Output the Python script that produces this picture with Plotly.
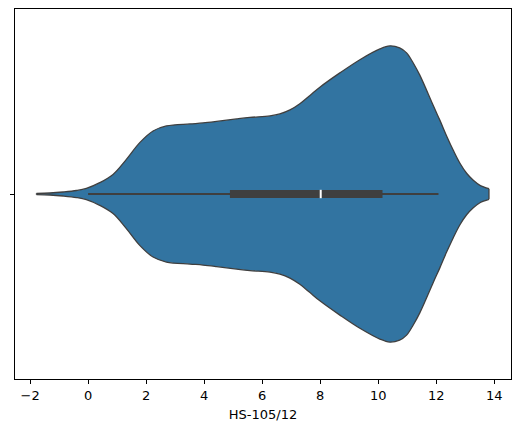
import plotly.graph_objects as go

# violin outline: value positions and half-widths (category units)
grid_x = [-1.78, -1.32, -0.86, -0.40, -0.06, 0.40, 0.86, 1.32, 1.78, 2.24, 2.70, 3.51,
          3.96, 4.43, 5.12, 5.58, 6.27, 6.61, 6.96, 7.30, 7.65, 7.99, 8.68, 9.37, 10.06,
          10.40, 10.74, 10.98, 11.21, 11.44, 11.90, 12.13, 12.36, 12.59, 12.82, 13.05,
          13.28, 13.51, 13.82]
half_width = [0.0016, 0.0027, 0.0054, 0.0095, 0.0151, 0.0306, 0.053, 0.0936, 0.1388,
              0.1704, 0.1839, 0.1893, 0.192, 0.1961, 0.2029, 0.2069, 0.211, 0.2164,
              0.2272, 0.2440, 0.2665, 0.2886, 0.3273, 0.363, 0.3922, 0.4003, 0.3949,
              0.3814, 0.354, 0.3205, 0.239, 0.199, 0.157, 0.118, 0.083, 0.056, 0.037,
              0.0235, 0.0145]

# box stats
whisker_lo, q1, median, q3, whisker_hi = 0.0, 4.89, 8.02, 10.15, 12.08
x_label = "HS-105/12"

FILL = "#3274a1"
EDGE = "#3f3f3f"

fig = go.Figure()
# lower edge, then upper edge filled down to it
fig.add_trace(go.Scatter(
    x=grid_x, y=[-h for h in half_width], mode="lines",
    line=dict(color=EDGE, width=1.3, shape="spline", smoothing=1.0),
    hoverinfo="skip", showlegend=False,
))
fig.add_trace(go.Scatter(
    x=grid_x, y=half_width, mode="lines", fill="tonexty", fillcolor=FILL,
    line=dict(color=EDGE, width=1.3, shape="spline", smoothing=1.0),
    hoverinfo="skip", showlegend=False,
))
# flat end caps of the cut density
for i in (0, -1):
    fig.add_trace(go.Scatter(
        x=[grid_x[i], grid_x[i]], y=[-half_width[i], half_width[i]], mode="lines",
        line=dict(color=EDGE, width=1.3), hoverinfo="skip", showlegend=False,
    ))
# whiskers
fig.add_trace(go.Scatter(
    x=[whisker_lo, whisker_hi], y=[0, 0], mode="lines",
    line=dict(color=EDGE, width=2.2), showlegend=False,
))
# box
fig.add_trace(go.Scatter(
    x=[q1, q3], y=[0, 0], mode="lines",
    line=dict(color=EDGE, width=8), showlegend=False,
))
# median
fig.add_trace(go.Scatter(
    x=[median], y=[0], mode="markers",
    marker=dict(symbol="line-ns", size=6, line=dict(color="white", width=2)),
    showlegend=False,
))

fig.update_layout(
    width=520, height=432,
    margin=dict(l=7, r=17, t=1, b=61),
    paper_bgcolor="white", plot_bgcolor="white",
    font=dict(family="DejaVu Sans", size=13, color="black"),
    showlegend=False,
)
fig.update_xaxes(
    range=[-2.52, 14.58], tickvals=list(range(-2, 15, 2)),
    ticks="outside", ticklen=4, tickwidth=1, tickcolor="black",
    showline=True, linecolor="black", linewidth=1, mirror=True,
    showgrid=False, zeroline=False, automargin=False,
    title=dict(text=x_label, standoff=8, font=dict(size=13)),
)
fig.update_yaxes(
    range=[0.5, -0.5], tickvals=[0], ticktext=[""],
    ticks="outside", ticklen=4, tickwidth=1, tickcolor="black",
    showline=True, linecolor="black", linewidth=1, mirror=True,
    showgrid=False, zeroline=False, automargin=False,
)

fig.write_html("out.html")
